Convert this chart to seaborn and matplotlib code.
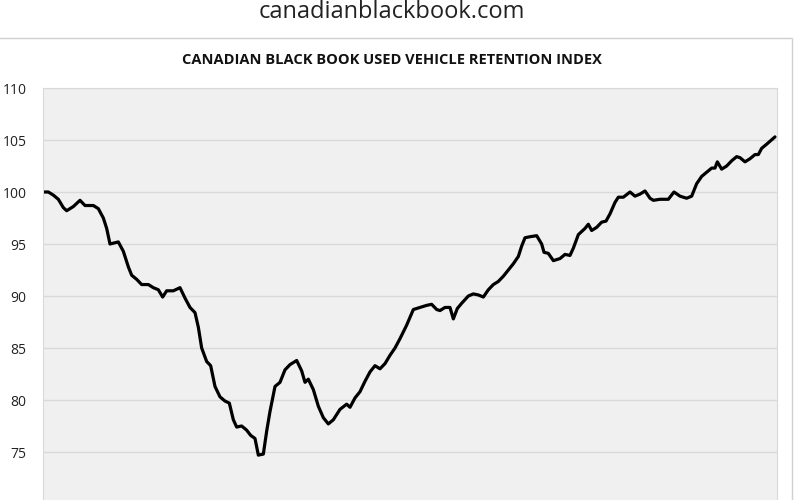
import numpy as np
import pandas as pd
import matplotlib
matplotlib.use("Agg")
import matplotlib.pyplot as plt
import seaborn as sns

# horizontal position (pixel-ish time units) and index level
period_left = [130, 145, 160, 175, 190, 200, 220, 240, 255, 280, 295, 310, 320, 330, 355, 370,
               385, 395, 410, 425, 445, 460, 475, 488, 500, 520, 540, 555, 570, 585, 595, 605,
               620, 632, 645, 660, 675, 688, 700, 710, 725, 740, 752, 765, 775, 790, 800, 810,
               825, 840, 855, 870, 890, 905, 915, 925, 940, 955, 970, 985, 1000, 1020, 1040,
               1050, 1065, 1080, 1095, 1110, 1125, 1140, 1155, 1170, 1185]
index_left = [100, 100, 99.7, 99.3, 98.5, 98.2, 98.6, 99.2, 98.7, 98.7, 98.4, 97.5, 96.5, 95.0,
              95.2, 94.3, 92.8, 92.0, 91.6, 91.1, 91.1, 90.8, 90.6, 89.9, 90.5, 90.5, 90.8, 89.8,
              88.9, 88.4, 87.0, 85.0, 83.7, 83.3, 81.3, 80.3, 79.9, 79.7, 78.1, 77.4, 77.5, 77.1,
              76.6, 76.3, 74.7, 74.8, 77.0, 78.9, 81.3, 81.7, 82.9, 83.4, 83.8, 82.8, 81.7, 82.0,
              81.0, 79.4, 78.3, 77.7, 78.1, 79.1, 79.6, 79.3, 80.2, 80.8, 81.8, 82.7, 83.3, 83.0,
              83.5, 84.3, 85.0]
period_right = [0, 20, 40, 60, 80, 95, 110, 120, 135, 150, 160, 172, 185, 205, 220, 235, 250,
                265, 280, 295, 310, 325, 340, 355, 365, 375, 390, 410, 425, 432, 445, 460, 480,
                495, 510, 520, 535, 555, 565, 575, 590, 605, 618, 630, 645, 655, 670, 690, 705,
                720, 735, 750, 760, 780, 805, 822, 840, 860, 875, 890, 905, 920, 935, 945, 952,
                965, 980, 995, 1010, 1020, 1035, 1050, 1065, 1075, 1085, 1100, 1125]
index_right = [85.9, 87.2, 88.7, 88.9, 89.1, 89.2, 88.7, 88.6, 88.9, 88.9, 87.8, 88.8, 89.3,
               90.0, 90.2, 90.1, 89.9, 90.6, 91.1, 91.4, 91.9, 92.5, 93.1, 93.8, 94.8, 95.6,
               95.7, 95.8, 95.0, 94.2, 94.1, 93.4, 93.6, 94.0, 93.9, 94.6, 95.9, 96.5, 96.9,
               96.3, 96.6, 97.1, 97.2, 97.9, 99.0, 99.5, 99.5, 100.0, 99.6, 99.8, 100.1, 99.4,
               99.2, 99.3, 99.3, 100.0, 99.6, 99.4, 99.6, 100.8, 101.5, 101.9, 102.3, 102.3,
               102.9, 102.2, 102.5, 103.0, 103.4, 103.3, 102.9, 103.2, 103.6, 103.6, 104.2,
               104.6, 105.3]

period = [p / 3 for p in period_left] + [400 + p / 3 for p in period_right]
level = index_left + index_right
df = pd.DataFrame({"period": period, "level": level})

sns.set_style("white")
plt.rcParams["font.family"] = ["Open Sans", "DejaVu Sans"]

fig = plt.figure(figsize=(8, 5), dpi=100)
fig.patch.set_facecolor("white")

# outer frame of the chart card
frame = plt.Rectangle((-0.01, -0.05), 0.9995, 0.975, transform=fig.transFigure,
                      fill=False, edgecolor="#d0d0d0", linewidth=1)
fig.add_artist(frame)

fig.text(0.49, 0.975, "canadianblackbook.com", ha="center", va="center",
         fontsize=17, color="#222222")
fig.text(0.49, 0.88, "CANADIAN BLACK BOOK USED VEHICLE RETENTION INDEX", ha="center",
         va="center", fontsize=10.5, fontweight="bold", color="#111111")

ax = fig.add_axes([43 / 800, -4 / 500, (777 - 43) / 800, (504 - 88) / 500])
ax.set_facecolor("#f0f0f0")
sns.lineplot(data=df, x="period", y="level", ax=ax, color="black", linewidth=2.3)

ax.set_xlim(43, 777)
ax.set_ylim(70, 110)
ax.set_yticks([75, 80, 85, 90, 95, 100, 105, 110])
ax.yaxis.grid(True, color="#d9d9d9", linewidth=1)
ax.set_xticks([])
ax.set_xlabel("")
ax.set_ylabel("")
ax.tick_params(axis="y", length=0, pad=12, labelsize=10, labelcolor="#222222")
for s in ax.spines.values():
    s.set_color("#d9d9d9")

fig.savefig("out.png", dpi=100)
